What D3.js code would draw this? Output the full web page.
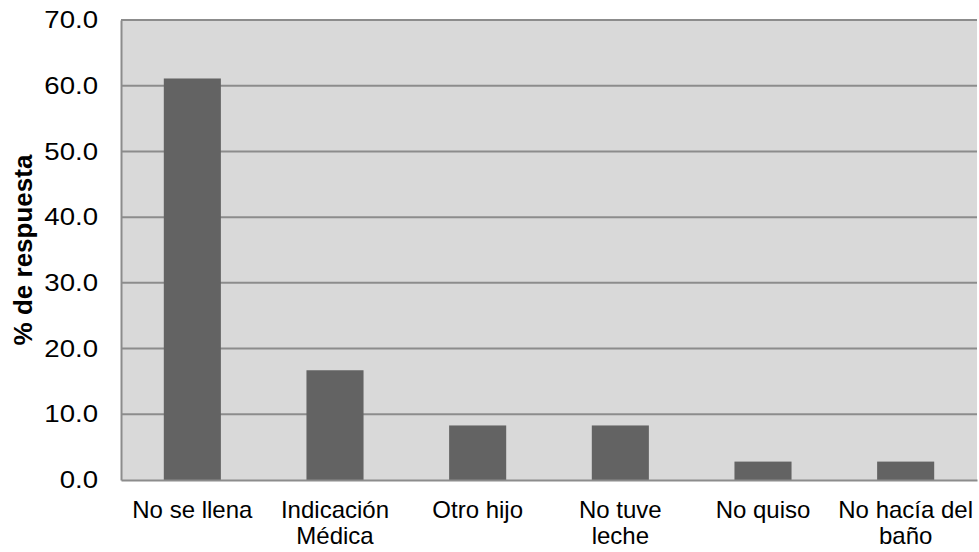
<!DOCTYPE html>
<html>
<head>
<meta charset="utf-8">
<script src="https://cdn.jsdelivr.net/npm/d3@7"></script>
<style>
  html, body { margin: 0; padding: 0; background: #ffffff; }
  svg { display: block; }
  text { font-family: "Liberation Sans", Arial, sans-serif; fill: #000000; }
</style>
</head>
<body>
<svg id="chart" width="979" height="552"></svg>
<script>
// Reasons given (percentage of responses)
const categories = [
  ["No se llena"],
  ["Indicación", "Médica"],
  ["Otro hijo"],
  ["No tuve", "leche"],
  ["No quiso"],
  ["No hacía del", "baño"]
];
const values = [61.1, 16.7, 8.3, 8.3, 2.8, 2.8];
const yTicks = [0, 10, 20, 30, 40, 50, 60, 70];
const yTitle = "% de respuesta";

const svg = d3.select("#chart");
const plot = { left: 121, right: 977, top: 20, bottom: 480 };

const keys = categories.map(c => c.join(" "));
const x = d3.scaleBand()
  .domain(keys)
  .range([plot.left, plot.right])
  .paddingInner(0.6)
  .paddingOuter(0.3);

const y = d3.scaleLinear()
  .domain([0, 70])
  .range([plot.bottom, plot.top]);

// plot background
svg.append("rect")
  .attr("x", plot.left)
  .attr("y", plot.top)
  .attr("width", plot.right - plot.left)
  .attr("height", plot.bottom - plot.top)
  .attr("fill", "#d9d9d9");

// horizontal gridlines
svg.append("g")
  .selectAll("line")
  .data(yTicks.filter(t => t > 0))
  .join("line")
  .attr("x1", plot.left)
  .attr("x2", plot.right)
  .attr("y1", d => y(d))
  .attr("y2", d => y(d))
  .attr("stroke", "#8c8c8c")
  .attr("stroke-width", 2);

// bars
svg.append("g")
  .selectAll("rect")
  .data(values)
  .join("rect")
  .attr("x", (d, i) => x(keys[i]))
  .attr("y", d => y(d))
  .attr("width", x.bandwidth())
  .attr("height", d => y(0) - y(d))
  .attr("fill", "#636363");

// y axis (tick labels set slightly wide)
const yAxis = svg.append("g")
  .attr("transform", `translate(${plot.left},0)`)
  .call(d3.axisLeft(y).tickValues(yTicks).tickFormat(d3.format(".1f")).tickSize(0).tickPadding(20));
yAxis.select(".domain").attr("stroke", "#8c8c8c").attr("stroke-width", 2);
yAxis.selectAll("text")
  .style("font-size", "24px")
  .style("font-family", "'Liberation Sans', Arial, sans-serif")
  .attr("fill", "#000")
  .attr("transform", "scale(1.15,1)");

// x axis
const xAxis = svg.append("g")
  .attr("transform", `translate(0,${plot.bottom})`)
  .call(d3.axisBottom(x).tickSize(0).tickFormat(""));
xAxis.select(".domain").attr("stroke", "#8c8c8c").attr("stroke-width", 2);

// category labels (wrapped)
const lab = svg.append("g")
  .selectAll("text")
  .data(categories)
  .join("text")
  .attr("text-anchor", "middle")
  .attr("x", (d, i) => x(keys[i]) + x.bandwidth() / 2)
  .attr("y", 518)
  .style("font-size", "24px");
lab.selectAll("tspan")
  .data(d => d)
  .join("tspan")
  .attr("x", function () { return d3.select(this.parentNode).attr("x"); })
  .attr("dy", (d, i) => i === 0 ? 0 : 26)
  .text(d => d);

// y title
svg.append("text")
  .attr("transform", `translate(32,${(plot.top + plot.bottom) / 2}) rotate(-90)`)
  .attr("text-anchor", "middle")
  .style("font-size", "26px")
  .style("font-weight", "bold")
  .text(yTitle);
</script>
</body>
</html>
